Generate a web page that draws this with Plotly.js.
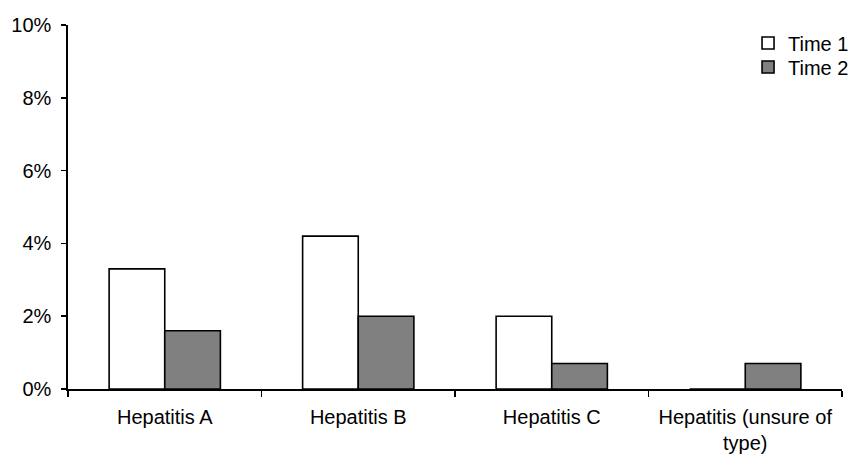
<!DOCTYPE html>
<html>
<head>
<meta charset="utf-8">
<script src="https://cdn.plot.ly/plotly-3.0.1.min.js"></script>
<style>html,body{margin:0;padding:0;background:#fff;}#chart{width:850px;height:456px;}</style>
</head>
<body>
<div id="chart"></div>
<script>
const categories = ["Hepatitis A", "Hepatitis B", "Hepatitis C", "Hepatitis (unsure of<br>type)"];
const time1 = [3.3, 4.2, 2.0, 0];
const time2 = [1.6, 2.0, 0.7, 0.7];
const seriesNames = ["Time 1", "Time 2"];

const traces = [
  {type: "bar", name: seriesNames[0], x: categories, y: time1, legend: "legend",
   marker: {color: "#ffffff", line: {color: "#000000", width: 1.6}}},
  {type: "bar", name: seriesNames[1], x: categories, y: time2, legend: "legend2",
   marker: {color: "#808080", line: {color: "#000000", width: 1.6}}}
];

const legendStyle = {
  xanchor: "left", yanchor: "middle",
  bgcolor: "rgba(0,0,0,0)", borderwidth: 0,
  font: {size: 20}, itemwidth: 30
};

const layout = {
  width: 850, height: 456,
  margin: {l: 68, r: 8, t: 25, b: 67, autoexpand: false},
  paper_bgcolor: "#ffffff", plot_bgcolor: "#ffffff",
  font: {family: "Liberation Sans, Arial, sans-serif", size: 20, color: "#000000"},
  barmode: "group",
  bargap: 0.425,
  bargroupgap: 0,
  xaxis: {
    type: "category",
    showline: true, linecolor: "#000000", linewidth: 1.6,
    ticks: "outside", tickson: "boundaries", ticklen: 6, tickcolor: "#000000", tickwidth: 1.6,
    ticklabelstandoff: 9,
    showgrid: false, zeroline: false,
    tickfont: {size: 20}
  },
  yaxis: {
    range: [0, 10], dtick: 2, tick0: 0, ticksuffix: "%",
    showline: true, linecolor: "#000000", linewidth: 1.6,
    ticks: "outside", ticklen: 5, tickcolor: "#000000", tickwidth: 1.6,
    ticklabelstandoff: 6,
    showgrid: false, zeroline: false,
    tickfont: {size: 20}
  },
  legend: Object.assign({x: 0.8786, y: 0.9505}, legendStyle),
  legend2: Object.assign({x: 0.8786, y: 0.8846}, legendStyle),
  showlegend: true
};

Plotly.newPlot("chart", traces, layout, {displayModeBar: false, staticPlot: true});
</script>
</body>
</html>
